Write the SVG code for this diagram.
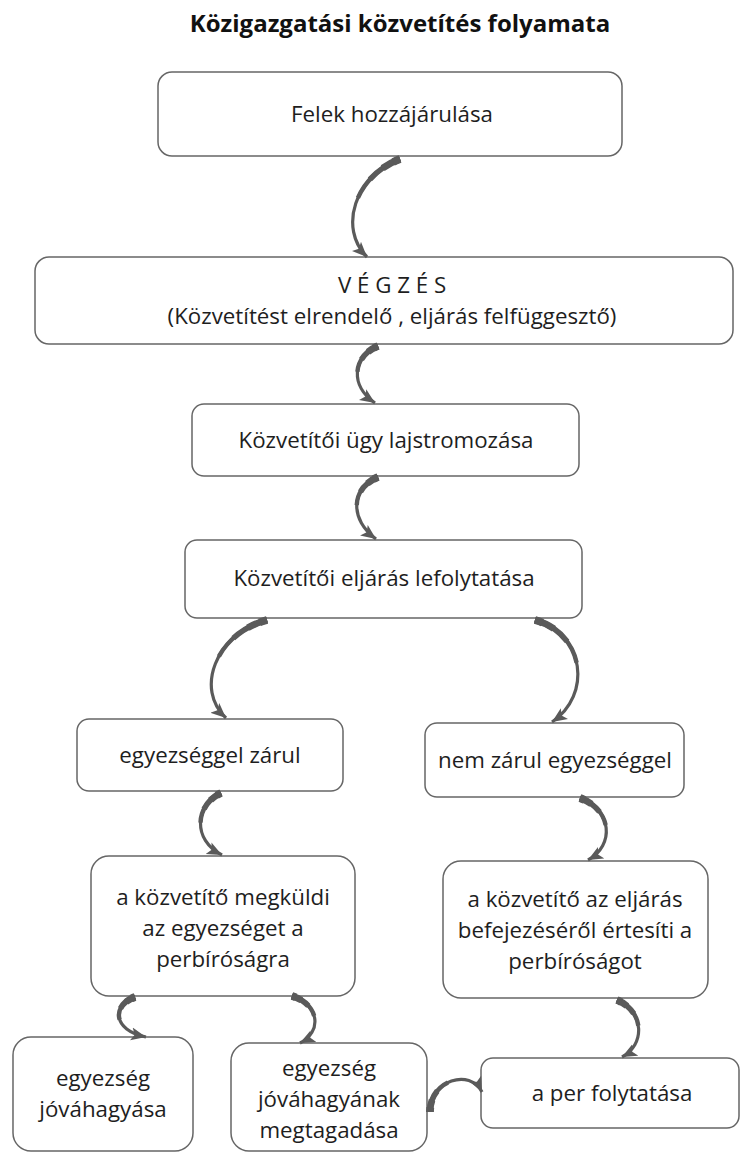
<svg xmlns="http://www.w3.org/2000/svg" width="741" height="1153" viewBox="0 0 741 1153">
<defs>
<style>
.box{fill:#ffffff;stroke:#666666;stroke-width:1.5}
.t{font-family:"Open Sans","Noto Sans","Liberation Sans",sans-serif;font-size:22.3px;fill:#1e1e1e;text-anchor:middle}
.title{font-family:"Open Sans","Noto Sans","Liberation Sans",sans-serif;font-size:24px;font-weight:bold;fill:#111111;text-anchor:middle}
.arr{fill:none;stroke:#5a5a5a;stroke-linecap:butt}
.w1{stroke-width:3.2;marker-end:url(#ah)}
.w2{stroke-width:4.4;stroke-dasharray:48 200}
.w3{stroke-width:5.6;stroke-dasharray:30 200}
.w4{stroke-width:6.8;stroke-dasharray:16 200}
.w5{stroke-width:7.8;stroke-dasharray:6 200}
</style>
<marker id="ah" markerUnits="userSpaceOnUse" markerWidth="16" markerHeight="14" viewBox="0 0 16 14" refX="15" refY="7" orient="auto">
<path d="M0,0.5 L15,7 L0,13.5 L3.5,7 Z" fill="#5a5a5a"/>
</marker>
<path id="a1" pathLength="100" d="M400,159 C355,176 338,228 367,257"/>
<path id="a2" pathLength="100" d="M378,346 C352,357 350,386 375,403"/>
<path id="a3" pathLength="100" d="M378,477 C350,489 350,520 376,539"/>
<path id="a4" pathLength="100" d="M267,620 C215,634 195,690 226,718"/>
<path id="a5" pathLength="100" d="M535,620 C585,634 592,695 552,722"/>
<path id="a6" pathLength="100" d="M221,793 C195,805 192,840 222,855"/>
<path id="a7" pathLength="100" d="M580,798 C612,810 615,845 588,860"/>
<path id="a8" pathLength="100" d="M135,997 C112,1005 112,1030 146,1037"/>
<path id="a9" pathLength="100" d="M292,996 C320,1005 322,1032 300,1043"/>
<path id="a10" pathLength="100" d="M617,1000 C645,1012 645,1045 622,1057"/>
<path id="a11" pathLength="100" d="M430,1112 C430,1080 470,1068 482,1092"/>
</defs>
<rect width="741" height="1153" fill="#ffffff"/>
<text class="title" x="400" y="32">Közigazgatási közvetítés folyamata</text>

<g id="n1"><rect class="box" x="158" y="72" width="464" height="84" rx="14"/><text class="t" x="392" y="122">Felek hozzájárulása</text></g>
<g id="n2"><rect class="box" x="35" y="257" width="698" height="87" rx="14"/><text class="t" x="392" y="293">V É G Z É S</text><text class="t" x="392" y="324">(Közvetítést elrendelő , eljárás felfüggesztő)</text></g>
<g id="n3"><rect class="box" x="192" y="404" width="387" height="72" rx="12"/><text class="t" x="386" y="448">Közvetítői ügy lajstromozása</text></g>
<g id="n4"><rect class="box" x="185" y="540" width="397" height="78" rx="12"/><text class="t" x="384" y="586">Közvetítői eljárás lefolytatása</text></g>
<g id="n5"><rect class="box" x="77" y="719" width="266" height="72" rx="12"/><text class="t" x="210" y="763">egyezséggel zárul</text></g>
<g id="n6"><rect class="box" x="425" y="723" width="259" height="74" rx="12"/><text class="t" x="555" y="768">nem zárul egyezséggel</text></g>
<g id="n7"><rect class="box" x="91" y="856" width="264" height="140" rx="18"/><text class="t" x="223" y="905">a közvetítő megküldi</text><text class="t" x="223" y="936">az egyezséget a</text><text class="t" x="223" y="967">perbíróságra</text></g>
<g id="n8"><rect class="box" x="443" y="861" width="265" height="137" rx="18"/><text class="t" x="575" y="907">a közvetítő az eljárás</text><text class="t" x="575" y="938">befejezéséről értesíti a</text><text class="t" x="575" y="969">perbíróságot</text></g>
<g id="n9"><rect class="box" x="13" y="1037" width="180" height="114" rx="18"/><text class="t" x="103" y="1086">egyezség</text><text class="t" x="103" y="1117">jóváhagyása</text></g>
<g id="n10"><rect class="box" x="231" y="1043" width="196" height="108" rx="18"/><text class="t" x="329" y="1076">egyezség</text><text class="t" x="329" y="1107">jóváhagyának</text><text class="t" x="329" y="1138">megtagadása</text></g>
<g id="n11"><rect class="box" x="481" y="1058" width="258" height="70" rx="12"/><text class="t" x="612" y="1101">a per folytatása</text></g>

<g id="connectors">
<use href="#a1" class="arr w1"/><use href="#a1" class="arr w2"/><use href="#a1" class="arr w3"/><use href="#a1" class="arr w4"/><use href="#a1" class="arr w5"/>
<use href="#a2" class="arr w1"/><use href="#a2" class="arr w2"/><use href="#a2" class="arr w3"/><use href="#a2" class="arr w4"/><use href="#a2" class="arr w5"/>
<use href="#a3" class="arr w1"/><use href="#a3" class="arr w2"/><use href="#a3" class="arr w3"/><use href="#a3" class="arr w4"/><use href="#a3" class="arr w5"/>
<use href="#a4" class="arr w1"/><use href="#a4" class="arr w2"/><use href="#a4" class="arr w3"/><use href="#a4" class="arr w4"/><use href="#a4" class="arr w5"/>
<use href="#a5" class="arr w1"/><use href="#a5" class="arr w2"/><use href="#a5" class="arr w3"/><use href="#a5" class="arr w4"/><use href="#a5" class="arr w5"/>
<use href="#a6" class="arr w1"/><use href="#a6" class="arr w2"/><use href="#a6" class="arr w3"/><use href="#a6" class="arr w4"/><use href="#a6" class="arr w5"/>
<use href="#a7" class="arr w1"/><use href="#a7" class="arr w2"/><use href="#a7" class="arr w3"/><use href="#a7" class="arr w4"/><use href="#a7" class="arr w5"/>
<use href="#a8" class="arr w1"/><use href="#a8" class="arr w2"/><use href="#a8" class="arr w3"/><use href="#a8" class="arr w4"/><use href="#a8" class="arr w5"/>
<use href="#a9" class="arr w1"/><use href="#a9" class="arr w2"/><use href="#a9" class="arr w3"/><use href="#a9" class="arr w4"/><use href="#a9" class="arr w5"/>
<use href="#a10" class="arr w1"/><use href="#a10" class="arr w2"/><use href="#a10" class="arr w3"/><use href="#a10" class="arr w4"/><use href="#a10" class="arr w5"/>
<use href="#a11" class="arr w1"/><use href="#a11" class="arr w2"/><use href="#a11" class="arr w3"/><use href="#a11" class="arr w4"/><use href="#a11" class="arr w5"/>
</g>
</svg>
